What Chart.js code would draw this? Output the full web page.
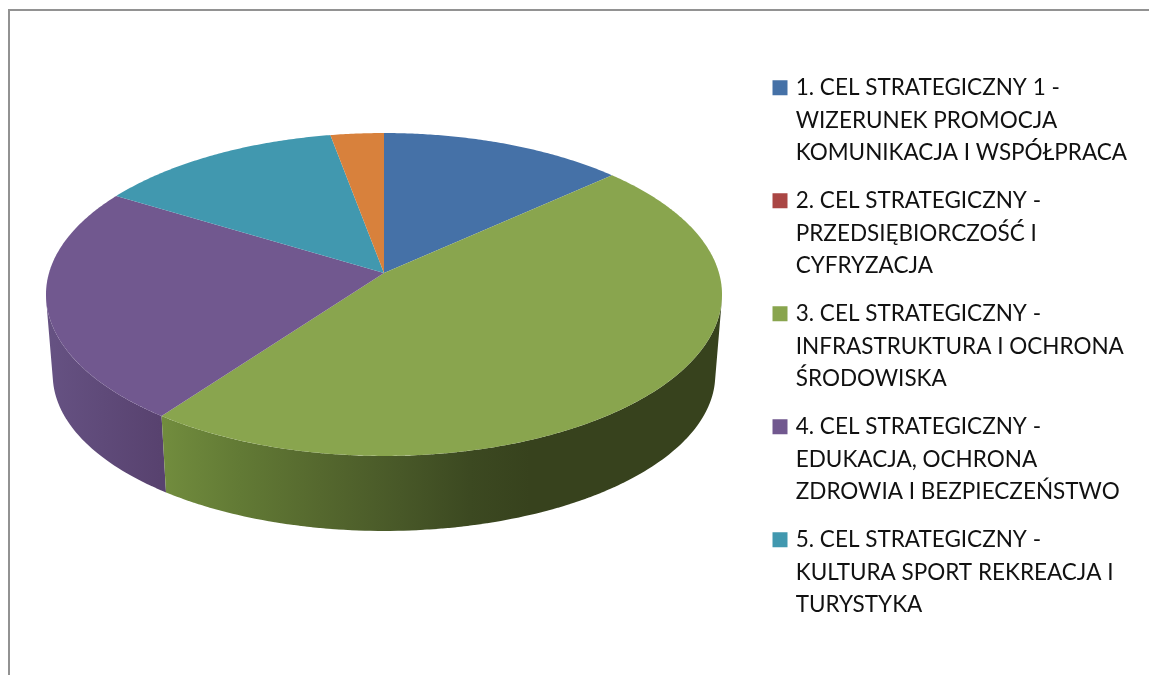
<!DOCTYPE html>
<html>
<head>
<meta charset="utf-8">
<script src="https://cdn.jsdelivr.net/npm/chart.js@4"></script>
<style>
  html, body { margin: 0; padding: 0; background: #fff; overflow: hidden; }
  #frame { position: absolute; left: 8px; top: 9px; width: 1141px; height: 666px; border-left: 2px solid #929292; border-top: 2px solid #929292; box-sizing: border-box; }
  #myChart { position: absolute; left: 0; top: 0; }
</style>
</head>
<body>
<div id="frame"></div>
<canvas id="myChart" width="1149" height="675"></canvas>
<script>
const categories = [
  ["1. CEL STRATEGICZNY 1 -", "WIZERUNEK PROMOCJA", "KOMUNIKACJA I WSPÓŁPRACA"],
  ["2. CEL STRATEGICZNY -", "PRZEDSIĘBIORCZOŚĆ I", "CYFRYZACJA"],
  ["3. CEL STRATEGICZNY -", "INFRASTRUKTURA I OCHRONA", "ŚRODOWISKA"],
  ["4. CEL STRATEGICZNY -", "EDUKACJA, OCHRONA", "ZDROWIA I BEZPIECZEŃSTWO"],
  ["5. CEL STRATEGICZNY -", "KULTURA SPORT REKREACJA I", "TURYSTYKA"],
  ["6."],
];
const shares = [13.3, 0, 46.8, 23.6, 13.4, 2.9];
const colors = ["#4571A7", "#AA4644", "#89A54E", "#71588F", "#4198AF", "#D8813C"];
// side wall shading, left to right
const sideStops = {
  3: [[46, "#665283"], [160, "#58426F"]],
  2: [[160, "#728D3E"], [240, "#627A35"], [320, "#55682E"], [400, "#485828"], [470, "#3C4921"], [530, "#37421D"], [722, "#37421D"]],
};

// the pie sits tilted, so the far half looks smaller than the near half
const pieX = 384, pieY = 273, radX = 335, radY = 158.6, tilt = -0.133;
function project(angle) {
  const u = Math.cos(angle), v = Math.sin(angle), w = 1 + tilt * v;
  return { x: pieX + radX * u / w, y: pieY + radY * v / w };
}
function lower(p) {
  return { x: pieX + 0.98 * (p.x - pieX), y: 375 + 0.966 * (p.y - 294.5) };
}

const pie3d = {
  id: "pie3d",
  beforeDatasetDraw(chart, args) {
    const ctx = chart.ctx;
    const arcs = chart.getDatasetMeta(args.index).data;
    const step = Math.PI / 180;
    ctx.save();

    // side wall: all the strips of a slice go in one path so no seams show
    [3, 2].forEach((i) => {
      const arc = arcs[i];
      const stops = sideStops[i];
      const grad = ctx.createLinearGradient(46, 0, 722, 0);
      grad.addColorStop(0, stops[0][1]);
      stops.forEach((s) => grad.addColorStop((s[0] - 46) / 676, s[1]));
      grad.addColorStop(1, stops[stops.length - 1][1]);
      ctx.beginPath();
      for (let a = arc.startAngle; a < arc.endAngle; a += step) {
        const b = Math.min(a + step * 1.2, arc.endAngle);
        if (Math.sin(a) < 0.12 || Math.sin(b) < 0.12) continue; // hidden behind the top face
        const t1 = project(a), t2 = project(b), b1 = lower(t1), b2 = lower(t2);
        const pts = [t1, t2, b2, b1];
        let area = 0;
        pts.forEach((p, k) => {
          const n = pts[(k + 1) % 4];
          area += p.x * n.y - n.x * p.y;
        });
        if (area < 0) pts.reverse();
        ctx.moveTo(pts[0].x, pts[0].y);
        pts.slice(1).forEach((p) => ctx.lineTo(p.x, p.y));
        ctx.closePath();
      }
      ctx.fillStyle = grad;
      ctx.fill("nonzero");
    });

    // top face
    arcs.forEach((arc, i) => {
      if (arc.endAngle - arc.startAngle <= 0) return;
      ctx.beginPath();
      ctx.moveTo(pieX, pieY);
      for (let a = arc.startAngle; a < arc.endAngle; a += step / 2) {
        const p = project(a);
        ctx.lineTo(p.x, p.y);
      }
      const end = project(arc.endAngle);
      ctx.lineTo(end.x, end.y);
      ctx.closePath();
      ctx.fillStyle = colors[i];
      ctx.fill();
    });
    ctx.restore();
    return false;
  },
};

new Chart(document.getElementById("myChart"), {
  type: "pie",
  data: {
    labels: categories,
    datasets: [
      {
        data: shares,
        backgroundColor: colors,
        borderColor: colors, // the legend swatch gets its size from this stroke
        borderWidth: 6,
      },
    ],
  },
  options: {
    responsive: false,
    animation: false,
    layout: { padding: { top: 61, right: 12 } },
    plugins: {
      tooltip: { enabled: false },
      legend: {
        position: "right",
        align: "start",
        labels: {
          color: "#111111",
          boxWidth: 9,
          boxHeight: 9,
          padding: 15.5,
          font: { family: "Lato", size: 22.5, lineHeight: 32.5 / 22.5 },
          filter: (item) => item.index < 5,
        },
      },
    },
  },
  plugins: [pie3d],
});
</script>
</body>
</html>
